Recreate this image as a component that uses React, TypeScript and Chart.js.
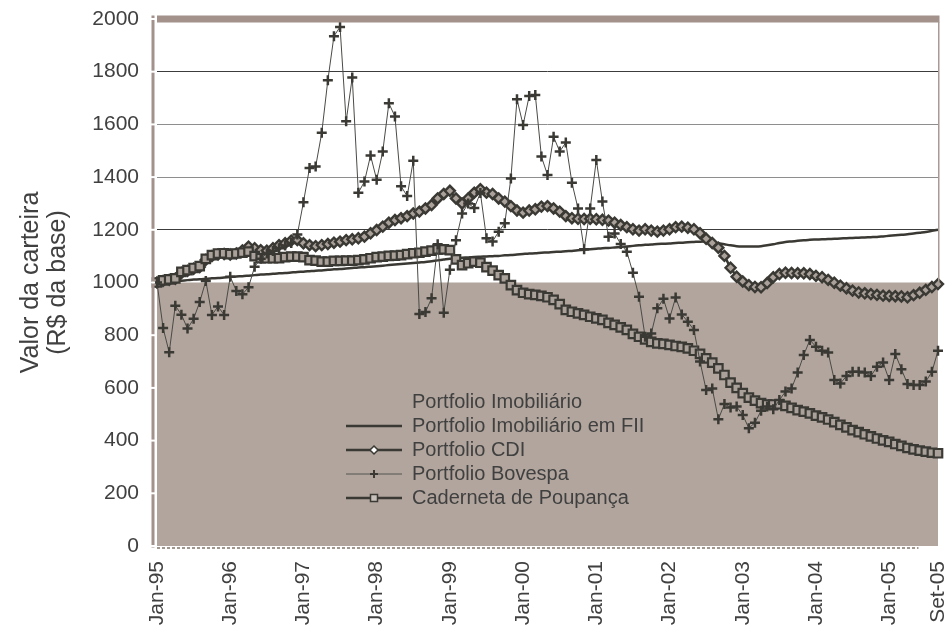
import React, { useEffect, useRef } from 'react';
import { Chart, registerables } from 'chart.js';

Chart.register(...registerables);

// ---------- categories ----------
const monthNames = ['Jan', 'Fev', 'Mar', 'Abr', 'Mai', 'Jun', 'Jul', 'Ago', 'Set', 'Out', 'Nov', 'Dez'];
const yearLabels = ['95', '96', '97', '98', '99', '00', '01', '02', '03', '04', '05'];
const lastLabel = 'Set-05';
const categories: string[] = [];
for (const yr of yearLabels) {
  for (const m of monthNames) {
    const lab = `${m}-${yr}`;
    categories.push(lab);
    if (lab === lastLabel) break;
  }
}

// ---------- y axis ----------
const yMin = 0;
const yMax = 2000;
const yStep = 200;

// ---------- series ----------
const portfolioImobiliario = [
  1000, 1000, 1000, 1000, 1000, 1000, 1000, 1000, 1000, 1000, 1000, 1000,
  1000, 1000, 1000, 1000, 1000, 1000, 1000, 1000, 1000, 1000, 1000, 1000,
  1000, 1000, 1000, 1000, 1000, 1000, 1000, 1000, 1000, 1000, 1000, 1000,
  1000, 1000, 1000, 1000, 1000, 1000, 1000, 1000, 1000, 1000, 1000, 1000,
  1000, 1000, 1000, 1000, 1000, 1000, 1000, 1000, 1000, 1000, 1000, 1000,
  1000, 1000, 1000, 1000, 1000, 1000, 1000, 1000, 1000, 1000, 1000, 1000,
  1000, 1000, 1000, 1000, 1000, 1000, 1000, 1000, 1000, 1000, 1000, 1000,
  1000, 1000, 1000, 1000, 1000, 1000, 1000, 1000, 1000, 1000, 1000, 1000,
  1000, 1000, 1000, 1000, 1000, 1000, 1000, 1000, 1000, 1000, 1000, 1000,
  1000, 1000, 1000, 1000, 1000, 1000, 1000, 1000, 1000, 1000, 1000, 1000,
  1000, 1000, 1000, 1000, 1000, 1000, 1000, 1000, 1000,
];

const portfolioFII = [
  1000, 1002, 1004, 1005, 1007, 1009, 1011, 1012, 1014, 1016, 1017, 1019,
  1021, 1023, 1024, 1026, 1028, 1030, 1031, 1033, 1035, 1036, 1038, 1040,
  1041, 1043, 1045, 1046, 1048, 1050, 1051, 1053, 1055, 1057, 1058, 1060,
  1062, 1064, 1066, 1068, 1070, 1072, 1074, 1076, 1078, 1081, 1084, 1087,
  1090, 1092, 1094, 1095, 1097, 1098, 1099, 1100, 1101, 1103, 1104, 1106,
  1108, 1110, 1111, 1113, 1114, 1116, 1117, 1119, 1120, 1122, 1124, 1126,
  1128, 1130, 1131, 1133, 1135, 1137, 1139, 1141, 1143, 1144, 1146, 1147,
  1148, 1150, 1151, 1153, 1154, 1155, 1155, 1153, 1149, 1145, 1141, 1138,
  1137, 1137, 1137, 1138, 1141, 1145, 1150, 1154, 1156, 1158, 1160, 1162,
  1163, 1164, 1165, 1166, 1167, 1168, 1169, 1170, 1171, 1172, 1173, 1175,
  1177, 1179, 1181, 1183, 1186, 1189, 1192, 1196, 1200,
];

const portfolioCDI = [
  1000, 1006, 1010, 1014, 1036, 1044, 1052, 1059, 1086, 1100, 1106, 1108,
  1106, 1110, 1122, 1136, 1130, 1123, 1121, 1130, 1142, 1149, 1159, 1161,
  1149, 1142, 1138, 1142, 1146, 1151, 1155, 1161, 1164, 1168, 1174, 1187,
  1199, 1212, 1227, 1237, 1244, 1252, 1262, 1269, 1281, 1294, 1319, 1336,
  1348, 1319, 1300, 1319, 1341, 1354, 1341, 1336, 1319, 1307, 1290, 1273,
  1265, 1273, 1278, 1288, 1290, 1281, 1269, 1252, 1244, 1242, 1241, 1242,
  1240, 1238, 1235, 1227, 1218, 1210, 1202, 1197, 1202, 1197, 1193, 1197,
  1202, 1210, 1212, 1208, 1202, 1187, 1166, 1150, 1132, 1101, 1056, 1022,
  1004, 990, 983, 982, 998, 1020, 1032, 1037, 1036, 1035, 1035, 1032,
  1025, 1020, 1010, 999, 988, 978, 969, 962, 959, 956, 953, 950,
  949, 948, 947, 944, 952, 961, 972, 983, 994,
];

const portfolioBovespa = [
  1000, 827, 735, 912, 878, 825, 862, 926, 1006, 877, 909, 877,
  1022, 968, 955, 982, 1060, 1090, 1110, 1120, 1130, 1140, 1150, 1182,
  1305, 1435, 1440, 1568, 1768, 1935, 1970, 1612, 1778, 1341, 1383, 1482,
  1390, 1497, 1680, 1630, 1365, 1328, 1462, 880, 888, 940, 1145, 885,
  1048, 1160, 1262, 1300, 1283, 1340, 1168, 1156, 1193, 1225, 1395, 1695,
  1598, 1708, 1712, 1478, 1408, 1553, 1497, 1531, 1379, 1281, 1126, 1281,
  1465, 1307, 1174, 1186, 1146, 1117, 1037, 946, 794, 806, 902, 938,
  863, 943, 879, 851, 820, 700, 592, 598, 481, 539, 526, 529,
  497, 447, 468, 513, 529, 519, 554, 586, 598, 658, 725, 782,
  756, 741, 734, 630, 617, 645, 661, 661, 658, 645, 680, 696,
  630, 729, 671, 615, 611, 611, 624, 661, 741,
];

const cadernetaPoupanca = [
  1000, 1008, 1012, 1016, 1040, 1047, 1055, 1062, 1090, 1104, 1110, 1111,
  1108, 1110, 1113, 1117, 1100, 1092, 1092, 1092, 1092, 1096, 1098, 1098,
  1096, 1085, 1083, 1079, 1079, 1082, 1082, 1083, 1083, 1085, 1088, 1092,
  1096, 1098, 1101, 1102, 1104, 1108, 1111, 1113, 1117, 1121, 1126, 1126,
  1123, 1088, 1066, 1073, 1079, 1075, 1058, 1045, 1028, 1016, 990, 971,
  961, 956, 953, 949, 944, 934, 918, 896, 889, 883, 877, 870,
  864, 858, 847, 839, 830, 820, 805, 794, 784, 775, 769, 767,
  763, 759, 756, 750, 741, 729, 712, 696, 674, 649, 620, 600,
  580, 563, 552, 542, 537, 537, 538, 532, 524, 516, 510, 503,
  495, 488, 480, 470, 460, 450, 440, 432, 424, 416, 408, 401,
  395, 387, 380, 372, 367, 362, 358, 354, 352,
];

const seriesNames = [
  'Portfolio Imobiliário',
  'Portfolio Imobiliário em FII',
  'Portfolio CDI',
  'Portfolio Bovespa',
  'Caderneta de Poupança',
];

// ---------- styles ----------
const FONT = '"Liberation Sans", Arial, sans-serif';
const TEXT = '#404040';
const DARK = '#3a3934';
const AREA = '#b1a59d';
const BAND = '#a2928b';
const MARKER_FILL = '#aaa19a';

const decorPlugin = {
  id: 'decor',
  afterDraw(chart: any) {
    const { ctx, chartArea: a, scales } = chart;
    const ys = scales.y;
    ctx.save();
    // top band
    ctx.fillStyle = BAND;
    ctx.fillRect(a.left, a.top - 3.5, a.right - a.left + 1.5, 7);
    // left axis line
    ctx.fillRect(a.left - 5.5, a.top - 3.5, 3, a.bottom - a.top + 5);
    // white tick notches
    ctx.fillStyle = '#ffffff';
    ys.ticks.forEach((t: any) => {
      const py = ys.getPixelForValue(t.value);
      ctx.fillRect(a.left - 7, py - 1, 5, 2);
    });
    // right border
    ctx.strokeStyle = '#a69c95';
    ctx.lineWidth = 1.5;
    ctx.beginPath();
    ctx.moveTo(a.right + 0.75, a.top + 3);
    ctx.lineTo(a.right + 0.75, ys.getPixelForValue(1000));
    ctx.stroke();
    // dotted baseline
    ctx.setLineDash([3, 2]);
    ctx.strokeStyle = '#a0978f';
    ctx.lineWidth = 2;
    ctx.beginPath();
    ctx.moveTo(a.left, a.bottom + 2);
    ctx.lineTo(a.left + (a.right - a.left) * 0.975, a.bottom + 2);
    ctx.stroke();
    ctx.setLineDash([]);

    // legend
    const lx0 = 346;
    const lx1 = 402;
    const mx = 374;
    const tx = 412;
    const rowY = [402, 426, 450, 474, 498];
    ctx.font = `20px ${FONT}`;
    ctx.textBaseline = 'middle';
    ctx.textAlign = 'left';
    seriesNames.forEach((name, i) => {
      const yy = rowY[i];
      ctx.fillStyle = TEXT;
      ctx.fillText(name, tx, yy);
      if (i === 0) return;
      ctx.strokeStyle = i === 3 ? '#555550' : DARK;
      ctx.lineWidth = i === 3 ? 1 : 2.5;
      ctx.beginPath();
      ctx.moveTo(lx0, yy);
      ctx.lineTo(lx1, yy);
      ctx.stroke();
      if (i === 2) {
        ctx.beginPath();
        ctx.moveTo(mx, yy - 4);
        ctx.lineTo(mx + 4, yy);
        ctx.lineTo(mx, yy + 4);
        ctx.lineTo(mx - 4, yy);
        ctx.closePath();
        ctx.fillStyle = '#ffffff';
        ctx.fill();
        ctx.lineWidth = 1.5;
        ctx.strokeStyle = DARK;
        ctx.stroke();
      } else if (i === 3) {
        ctx.strokeStyle = DARK;
        ctx.lineWidth = 2;
        ctx.beginPath();
        ctx.moveTo(mx - 4, yy);
        ctx.lineTo(mx + 4, yy);
        ctx.moveTo(mx, yy - 4);
        ctx.lineTo(mx, yy + 4);
        ctx.stroke();
      } else if (i === 4) {
        ctx.fillStyle = '#c8c0ba';
        ctx.fillRect(mx - 3.5, yy - 3.5, 7, 7);
        ctx.lineWidth = 1.5;
        ctx.strokeStyle = DARK;
        ctx.strokeRect(mx - 3.5, yy - 3.5, 7, 7);
      }
    });
    ctx.restore();
  },
};

export default function App() {
  const canvasRef = useRef<HTMLCanvasElement | null>(null);

  useEffect(() => {
    if (!canvasRef.current) return;
    const gridColor = (ctx: any) => {
      const v = ctx.tick ? ctx.tick.value : null;
      if (v === 1800 || v === 1200) return '#3c3c3c';
      if (v === 1600 || v === 1400) return '#8e8e8e';
      return 'rgba(0,0,0,0)';
    };
    const chart = new Chart(canvasRef.current, {
      type: 'line',
      data: {
        labels: categories,
        datasets: [
          {
            label: seriesNames[0],
            data: portfolioImobiliario,
            fill: 'origin',
            backgroundColor: AREA,
            borderColor: 'rgba(0,0,0,0)',
            borderWidth: 0,
            pointRadius: 0,
            order: 10,
          },
          {
            label: seriesNames[1],
            data: portfolioFII,
            borderColor: DARK,
            borderWidth: 2.5,
            pointRadius: 0,
            tension: 0.3,
            fill: false,
            order: 4,
          },
          {
            label: seriesNames[2],
            data: portfolioCDI,
            borderColor: DARK,
            borderWidth: 2.5,
            pointStyle: 'rectRot',
            pointRadius: 5,
            pointBorderWidth: 2.4,
            pointBorderColor: DARK,
            pointBackgroundColor: MARKER_FILL,
            fill: false,
            order: 3,
          },
          {
            label: seriesNames[3],
            data: portfolioBovespa,
            borderColor: '#4a4a46',
            borderWidth: 1,
            pointStyle: 'cross',
            pointRadius: 5,
            pointBorderWidth: 2.5,
            pointBorderColor: DARK,
            fill: false,
            order: 1,
          },
          {
            label: seriesNames[4],
            data: cadernetaPoupanca,
            borderColor: DARK,
            borderWidth: 2,
            pointStyle: 'rect',
            pointRadius: 6,
            pointBorderWidth: 2.2,
            pointBorderColor: DARK,
            pointBackgroundColor: MARKER_FILL,
            fill: false,
            order: 2,
          },
        ],
      },
      options: {
        responsive: false,
        animation: false,
        events: [],
        layout: { padding: { top: 19, right: 13, left: 0, bottom: 0 } },
        plugins: {
          legend: { display: false },
          tooltip: { enabled: false },
        },
        scales: {
          x: {
            type: 'category',
            offset: false,
            grid: { display: false, drawTicks: false },
            border: { display: false },
            ticks: {
              autoSkip: false,
              minRotation: 90,
              maxRotation: 90,
              padding: 15,
              color: TEXT,
              font: { family: FONT, size: 21 },
              callback: function (this: any, value: any, index: number) {
                const lab = categories[index];
                if (lab.startsWith('Jan') || index === categories.length - 1) return lab;
                return '';
              },
            },
            afterFit: (s: any) => {
              s.height = 79;
              s.paddingLeft = 0;
              s.paddingRight = 0;
              s.paddingTop = 0;
              s.paddingBottom = 0;
            },
          },
          y: {
            min: yMin,
            max: yMax,
            grid: { color: gridColor, drawTicks: false, lineWidth: 1 },
            border: { display: false },
            ticks: {
              stepSize: yStep,
              padding: 18,
              color: TEXT,
              font: { family: FONT, size: 21 },
              callback: (value: any) => String(value),
            },
            title: {
              display: true,
              text: ['Valor da carteira', '(R$ da base)'],
              color: TEXT,
              font: { family: FONT, size: 25, lineHeight: 1.1 },
              padding: { top: 17, bottom: 0 },
            },
            afterFit: (s: any) => {
              s.width = 157;
              s.paddingTop = 0;
              s.paddingBottom = 0;
              s.paddingLeft = 0;
              s.paddingRight = 0;
            },
          },
        },
      },
      plugins: [decorPlugin],
    });
    return () => chart.destroy();
  }, []);

  return (
    <div style={{ position: 'absolute', left: 0, top: 0, width: 951, height: 625, background: '#ffffff' }}>
      <canvas ref={canvasRef} width={951} height={625} style={{ display: 'block' }} />
    </div>
  );
}
